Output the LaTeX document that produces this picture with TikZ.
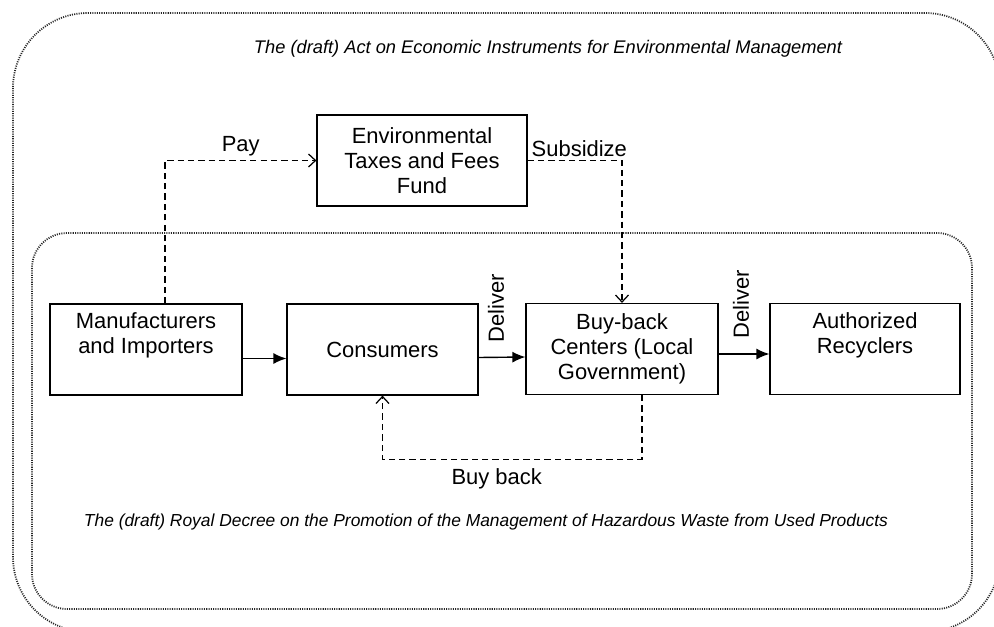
\documentclass[tikz,border=0pt]{standalone}
\usepackage{fontspec}
\setmainfont{Liberation Sans}
\usetikzlibrary{positioning,arrows.meta}

\begin{document}
\begin{tikzpicture}[x=0.02cm, y=-0.02cm,
  box/.style={draw, line width=0.7pt, align=center, inner sep=0pt, minimum width=3.84cm, minimum height=1.82cm, font=\fontsize{12.5}{14.2}\selectfont},
  lbl/.style={font=\fontsize{12.5}{14.2}\selectfont, inner sep=2pt},
  title/.style={font=\fontsize{10}{12}\selectfont\itshape, inner sep=0pt},
  region/.style={draw=black!85, line width=1pt, dash pattern=on 0.6pt off 0.7pt},
  flow/.style={line width=0.8pt, -{Latex[length=2.6mm, width=2.2mm]}},
  money/.style={line width=0.7pt, dash pattern=on 3.6pt off 2.3pt, -{Straight Barb[length=1.4mm, width=2.6mm]}}]
\useasboundingbox (0,0) rectangle (994,626);
\clip (0,0) rectangle (994,626);
% the two laws
\draw[region, rounded corners=1.5cm] (13,13) rectangle (1000,632);
\draw[region, rounded corners=0.7cm] (32,233) rectangle (972,609);
\node[title, font=\fontsize{10.4}{12}\selectfont\itshape] (act) at (548,49) {The (draft) Act on Economic Instruments for Environmental Management};
\node[title, font=\fontsize{9.9}{12}\selectfont\itshape] (decree) at (486,522) {The (draft) Royal Decree on the Promotion of the Management of Hazardous Waste from Used Products};
% actors
\node[box] (makers) at (146,349.5) {Manufacturers\\and Importers\\\strut};
\node[box, minimum width=3.82cm] (users) at (382.5,349.5) {Consumers};
\node[box] (centers) at (622,349) {Buy-back\\Centers (Local\\Government)};
\node[box, minimum width=3.8cm] (recyclers) at (865,349) {Authorized\\Recyclers\\\strut};
\node[box, minimum width=4.2cm] (fund) at (422,160.5) {Environmental\\Taxes and Fees\\Fund};
% product flow
\draw[flow] ([yshift=-0.18cm]makers.east) -- ([yshift=-0.18cm]users.west);
\draw[flow] ([yshift=-0.16cm]users.east) -- ([yshift=-0.16cm]centers.west);
\draw[flow] ([yshift=-0.1cm]centers.east) -- ([yshift=-0.1cm]recyclers.west);
\node[lbl, inner sep=0pt, rotate=90, anchor=north west] (deliver1) at ([xshift=0.18cm, yshift=0.14cm]users.east) {Deliver};
\node[lbl, inner sep=0pt, rotate=90, anchor=north west] (deliver2) at ([xshift=0.28cm, yshift=0.2cm]centers.east) {Deliver};
% money flow
\draw[money] ([xshift=0.38cm]makers.north) |- node[lbl, pos=0.75, above] {Pay} (fund.west);
\draw[money] (fund.east) -| node[lbl, pos=0, anchor=south west] {Subsidize} (centers.north);
\draw[money] ([xshift=0.4cm]centers.south) -- ++(0,64) -| node[lbl, pos=0.28, below=3pt] {Buy back} (users.south);
\end{tikzpicture}
\end{document}
